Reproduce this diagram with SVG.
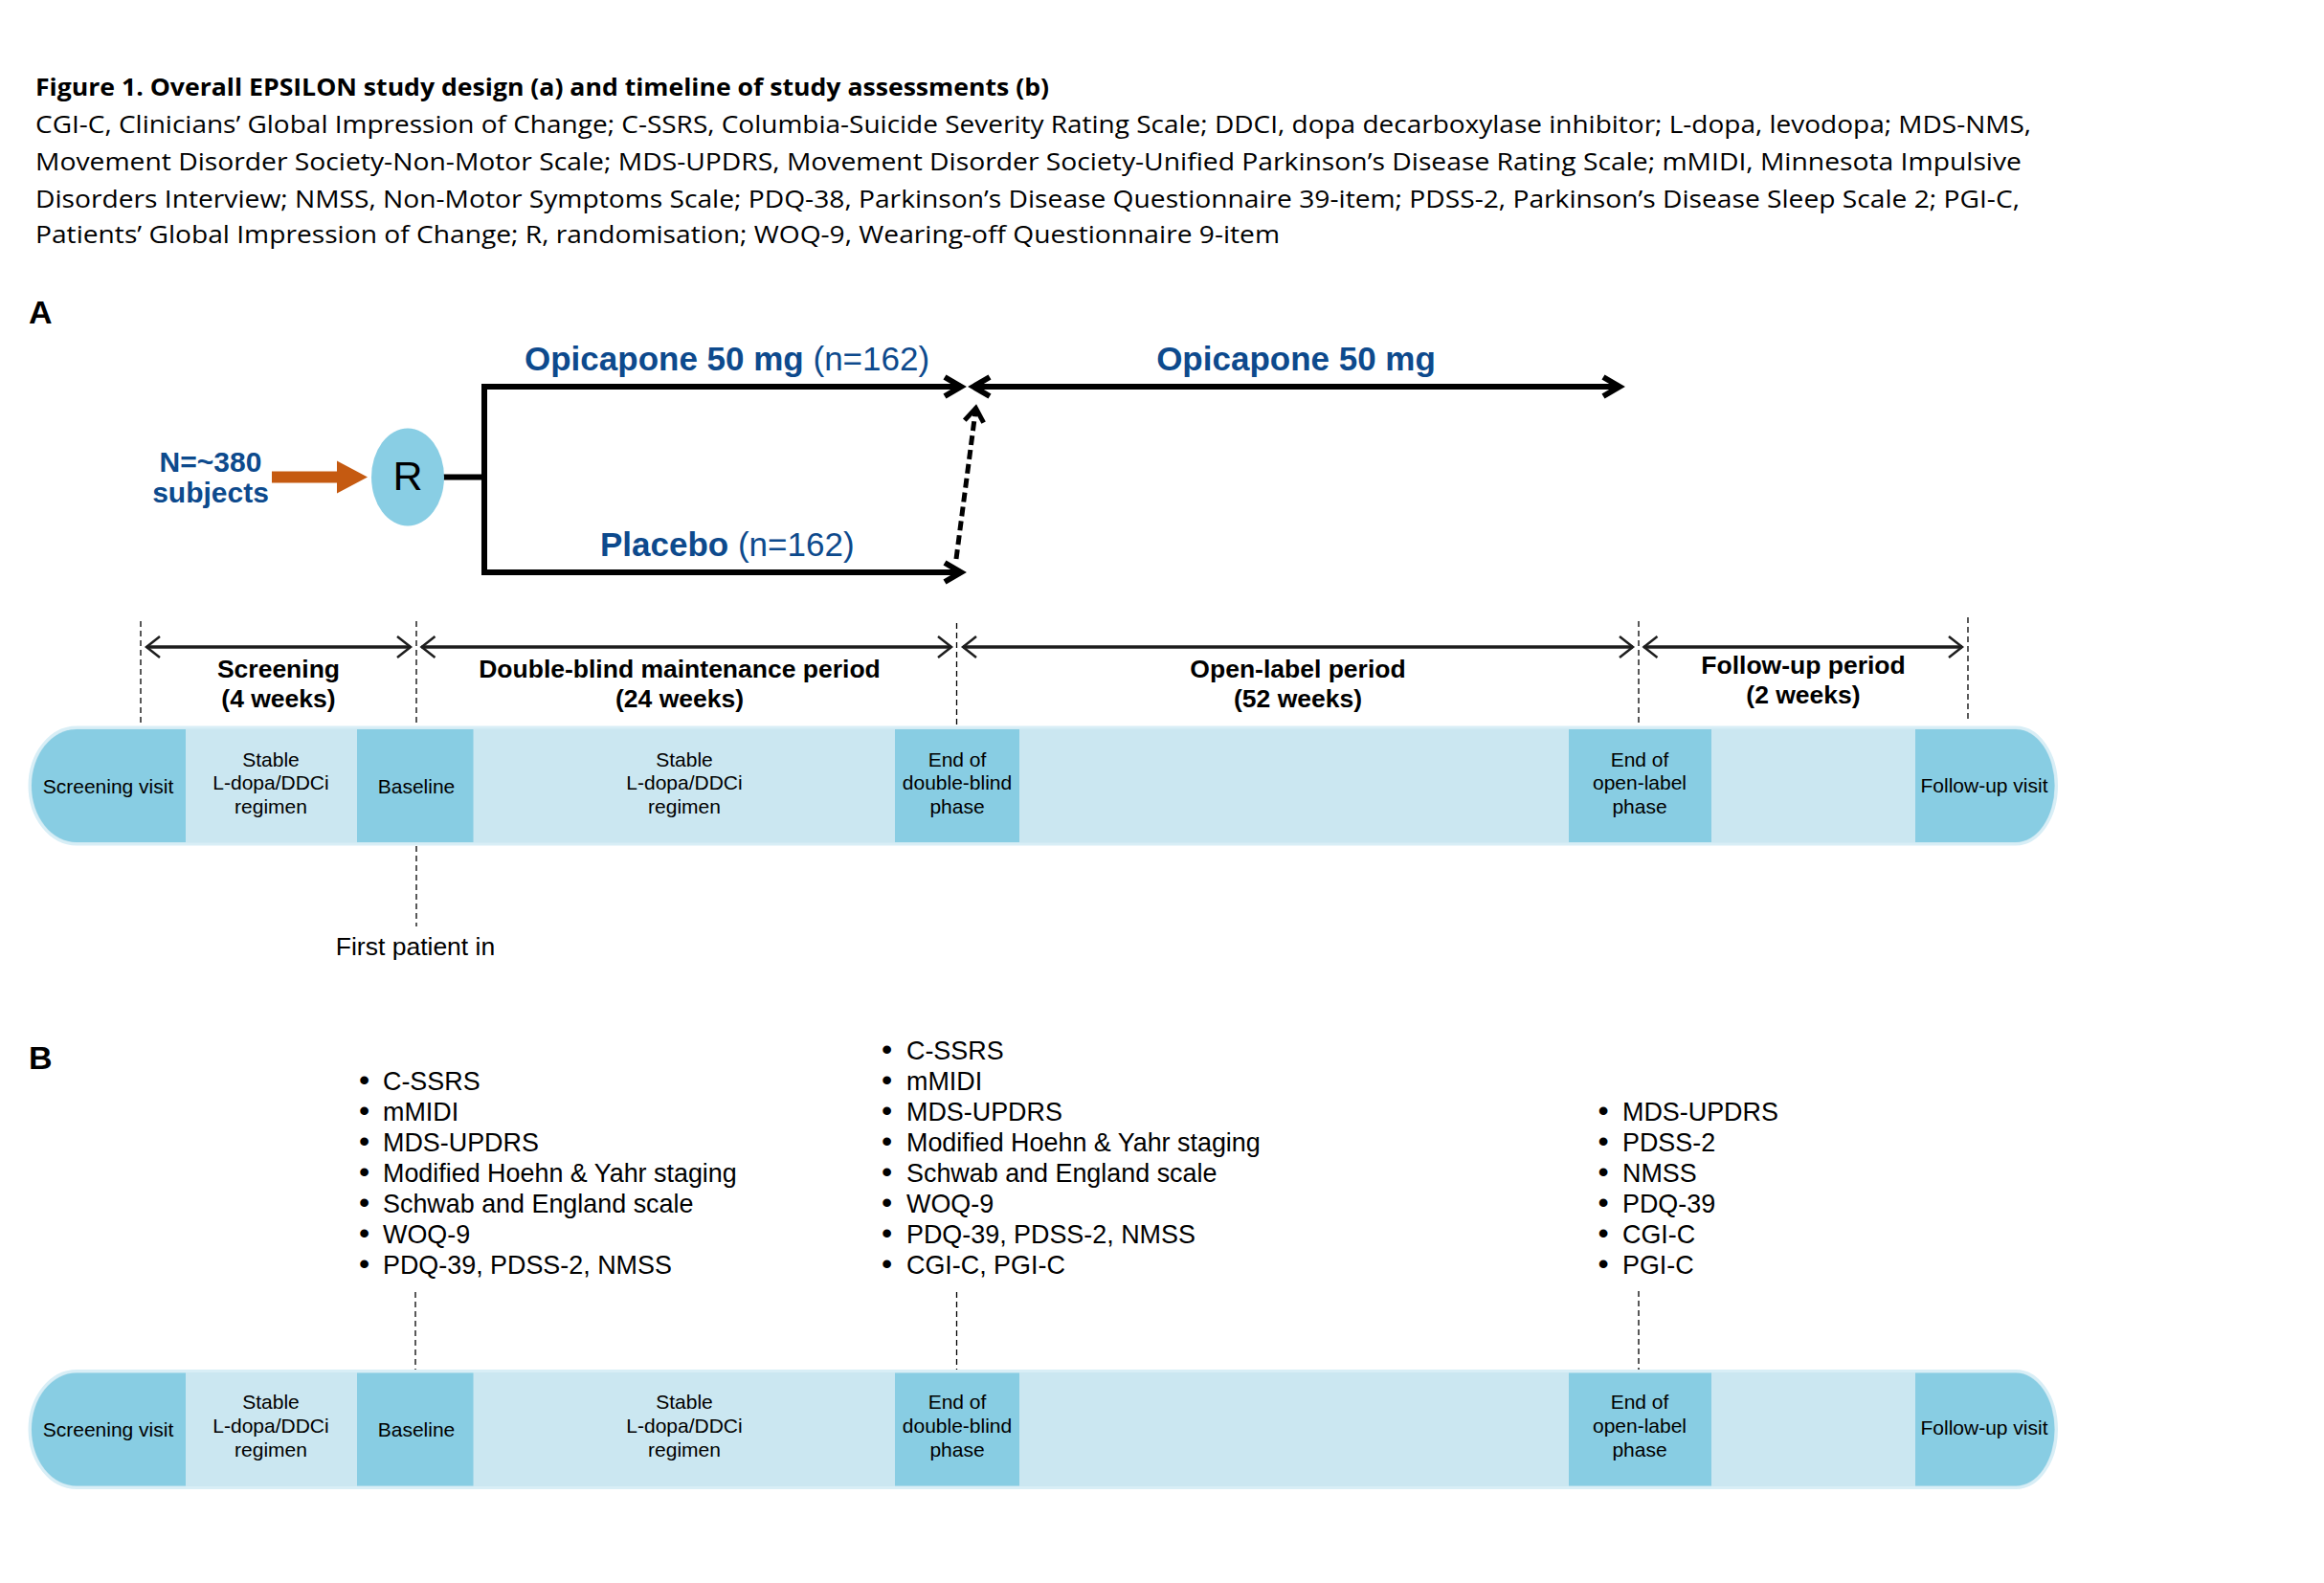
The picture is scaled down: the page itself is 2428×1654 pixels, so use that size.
<svg xmlns="http://www.w3.org/2000/svg" width="2428" height="1654" viewBox="0 0 2428 1654">
<style>
text{font-family:"Liberation Sans",Arial,sans-serif;fill:#000}
.cap{font-family:"Open Sans","Liberation Sans",sans-serif;font-size:25.5px}
.capb{font-weight:700}
.lab{font-size:34px;font-weight:700}
.blue{fill:#0d4a8d}
.armt{font-size:35px}
.b{font-weight:700}
.arm{stroke:#000;stroke-width:6;fill:none;stroke-linejoin:miter}
.per{stroke:#1e1e1e;stroke-width:3.5;fill:none}
.guide{stroke:#000;stroke-width:1.3;stroke-dasharray:6 4;fill:none}
.dash{stroke:#000;stroke-width:5;stroke-dasharray:10 5;fill:none}
.bar{fill:#cbe7f1;stroke:#d8eef6;stroke-width:3}
.dark{fill:#88cde3}
.bt{font-size:21px;text-anchor:middle}
.pl{font-size:26.5px;font-weight:700;text-anchor:middle}
.li{font-size:26.9px}
.bu{font-size:32px}
</style>
<defs>
<marker id="chev" markerUnits="userSpaceOnUse" markerWidth="40" markerHeight="40" viewBox="-30 -20 40 40" refX="0" refY="0" orient="auto-start-reverse" overflow="visible"><path d="M-17,-10 L0,0 L-17,10" fill="none" stroke="#000" stroke-width="6"/></marker>
<marker id="dchev" markerUnits="userSpaceOnUse" markerWidth="40" markerHeight="40" viewBox="-30 -20 40 40" refX="0" refY="0" orient="auto" overflow="visible"><path d="M-14,-10 L0,0 L-14,10" fill="none" stroke="#000" stroke-width="5" stroke-dasharray="none"/></marker>
<marker id="pchev" markerUnits="userSpaceOnUse" markerWidth="40" markerHeight="40" viewBox="-30 -20 40 40" refX="0" refY="0" orient="auto-start-reverse" overflow="visible"><path d="M-14,-11 L0,0 L-14,11" fill="none" stroke="#1e1e1e" stroke-width="2.5"/></marker>
</defs>

<g id="caption" class="cap">
<text class="cap capb" x="37" y="100" textLength="1059" lengthAdjust="spacingAndGlyphs">Figure 1. Overall EPSILON study design (a) and timeline of study assessments (b)</text>
<text class="cap" x="37" y="139" textLength="2085" lengthAdjust="spacingAndGlyphs">CGI-C, Clinicians’ Global Impression of Change; C-SSRS, Columbia-Suicide Severity Rating Scale; DDCI, dopa decarboxylase inhibitor; L-dopa, levodopa; MDS-NMS,</text>
<text class="cap" x="37" y="178" textLength="2075" lengthAdjust="spacingAndGlyphs">Movement Disorder Society-Non-Motor Scale; MDS-UPDRS, Movement Disorder Society-Unified Parkinson’s Disease Rating Scale; mMIDI, Minnesota Impulsive</text>
<text class="cap" x="37" y="216.5" textLength="2073" lengthAdjust="spacingAndGlyphs">Disorders Interview; NMSS, Non-Motor Symptoms Scale; PDQ-38, Parkinson’s Disease Questionnaire 39-item; PDSS-2, Parkinson’s Disease Sleep Scale 2; PGI-C,</text>
<text class="cap" x="37" y="254" textLength="1300" lengthAdjust="spacingAndGlyphs">Patients’ Global Impression of Change; R, randomisation; WOQ-9, Wearing-off Questionnaire 9-item</text>
</g>

<g id="label-A"><text class="lab" x="30" y="338">A</text></g>
<g id="label-B"><text class="lab" x="30" y="1117">B</text></g>

<g id="connectors">
<polygon id="entry-arrow" points="284,492.5 352,492.5 352,481.5 384,498.5 352,515.5 352,504.5 284,504.5" fill="#c55a11"/>
<line x1="463" y1="498.5" x2="506" y2="498.5" class="arm"/>
<path class="arm" d="M1004,404 H506 V598 H1004" marker-start="url(#chev)" marker-end="url(#chev)"/>
<path class="arm" d="M1017,404 H1692" marker-start="url(#chev)" marker-end="url(#chev)"/>
<path class="dash" d="M999,584 L1019.5,426.5" marker-end="url(#dchev)"/>
<path class="per" d="M153,676 H429" marker-start="url(#pchev)" marker-end="url(#pchev)"/>
<path class="per" d="M440.5,676 H994" marker-start="url(#pchev)" marker-end="url(#pchev)"/>
<path class="per" d="M1006,676 H1706" marker-start="url(#pchev)" marker-end="url(#pchev)"/>
<path class="per" d="M1717.5,676 H2050" marker-start="url(#pchev)" marker-end="url(#pchev)"/>
<path class="guide" d="M147,649 V758 M435,649 V758 M435,884 V968 M999.5,651 V758 M1712,649 V757 M2056,645 V753"/>
<path class="guide" d="M434,1350 V1432 M999.5,1350 V1432 M1712,1349 V1432"/>
</g>

<g id="node-N">
<text class="blue b" x="220" y="493" font-size="30" text-anchor="middle">N=~380</text>
<text class="blue b" x="220" y="525" font-size="30" text-anchor="middle">subjects</text>
</g>
<g id="node-R">
<ellipse cx="426" cy="498.5" rx="38" ry="51" fill="#89cee4"/>
<text x="426" y="511.5" font-size="43" text-anchor="middle">R</text>
</g>
<g id="label-opicapone">
<text class="blue armt" x="548" y="387"><tspan class="b">Opicapone 50 mg</tspan> (n=162)</text>
</g>
<g id="label-placebo">
<text class="blue armt" x="627" y="581"><tspan class="b">Placebo</tspan> (n=162)</text>
</g>
<g id="label-openlabel-arm">
<text class="blue armt b" x="1354" y="387" text-anchor="middle">Opicapone 50 mg</text>
</g>

<g id="period-labels">
<text class="pl" x="291" y="708">Screening</text>
<text class="pl" x="291" y="738.5">(4 weeks)</text>
<text class="pl" x="710" y="708">Double-blind maintenance period</text>
<text class="pl" x="710" y="738.5">(24 weeks)</text>
<text class="pl" x="1356" y="708">Open-label period</text>
<text class="pl" x="1356" y="738.5">(52 weeks)</text>
<text class="pl" x="1884" y="704">Follow-up period</text>
<text class="pl" x="1884" y="735">(2 weeks)</text>
</g>

<g id="timeline-A">
<path class="bar" d="M80,760 H2106 A42.5,61 0 0 1 2106,882 H80 A49,61 0 0 1 80,760 Z"/>
<g id="A-screening-visit"><path class="dark" d="M194,762 H80 A47,59 0 0 0 80,880 H194 Z"/><text class="bt" x="113" y="829">Screening visit</text></g>
<g id="A-stable-1"><text class="bt" x="283" y="800.5">Stable</text><text class="bt" x="283" y="825">L-dopa/DDCi</text><text class="bt" x="283" y="850">regimen</text></g>
<g id="A-baseline"><rect class="dark" x="373" y="762" width="121.5" height="118"/><text class="bt" x="435" y="829">Baseline</text></g>
<g id="A-stable-2"><text class="bt" x="715" y="800.5">Stable</text><text class="bt" x="715" y="825">L-dopa/DDCi</text><text class="bt" x="715" y="850">regimen</text></g>
<g id="A-end-db"><rect class="dark" x="935" y="762" width="130" height="118"/><text class="bt" x="1000" y="800.5">End of</text><text class="bt" x="1000" y="825">double-blind</text><text class="bt" x="1000" y="850">phase</text></g>
<g id="A-end-ol"><rect class="dark" x="1639" y="762" width="149" height="118"/><text class="bt" x="1713" y="800.5">End of</text><text class="bt" x="1713" y="825">open-label</text><text class="bt" x="1713" y="850">phase</text></g>
<g id="A-followup-visit"><path class="dark" d="M2001,762 H2106 A40.5,59 0 0 1 2106,880 H2001 Z"/><text class="bt" x="2073" y="828">Follow-up visit</text></g>
</g>

<g id="first-patient"><text x="434" y="998" font-size="26.5" text-anchor="middle">First patient in</text></g>

<g id="list-baseline" class="li">
<text class="li" y="1139"><tspan class="bu" x="375">•</tspan><tspan x="400">C-SSRS</tspan></text>
<text class="li" y="1171"><tspan class="bu" x="375">•</tspan><tspan x="400">mMIDI</tspan></text>
<text class="li" y="1203"><tspan class="bu" x="375">•</tspan><tspan x="400">MDS-UPDRS</tspan></text>
<text class="li" y="1235"><tspan class="bu" x="375">•</tspan><tspan x="400">Modified Hoehn &amp; Yahr staging</tspan></text>
<text class="li" y="1267"><tspan class="bu" x="375">•</tspan><tspan x="400">Schwab and England scale</tspan></text>
<text class="li" y="1299"><tspan class="bu" x="375">•</tspan><tspan x="400">WOQ-9</tspan></text>
<text class="li" y="1331"><tspan class="bu" x="375">•</tspan><tspan x="400">PDQ-39, PDSS-2, NMSS</tspan></text>
</g>
<g id="list-end-db" class="li">
<text class="li" y="1107"><tspan class="bu" x="921">•</tspan><tspan x="947">C-SSRS</tspan></text>
<text class="li" y="1139"><tspan class="bu" x="921">•</tspan><tspan x="947">mMIDI</tspan></text>
<text class="li" y="1171"><tspan class="bu" x="921">•</tspan><tspan x="947">MDS-UPDRS</tspan></text>
<text class="li" y="1203"><tspan class="bu" x="921">•</tspan><tspan x="947">Modified Hoehn &amp; Yahr staging</tspan></text>
<text class="li" y="1235"><tspan class="bu" x="921">•</tspan><tspan x="947">Schwab and England scale</tspan></text>
<text class="li" y="1267"><tspan class="bu" x="921">•</tspan><tspan x="947">WOQ-9</tspan></text>
<text class="li" y="1299"><tspan class="bu" x="921">•</tspan><tspan x="947">PDQ-39, PDSS-2, NMSS</tspan></text>
<text class="li" y="1331"><tspan class="bu" x="921">•</tspan><tspan x="947">CGI-C, PGI-C</tspan></text>
</g>
<g id="list-end-ol" class="li">
<text class="li" y="1171"><tspan class="bu" x="1669.5">•</tspan><tspan x="1695">MDS-UPDRS</tspan></text>
<text class="li" y="1203"><tspan class="bu" x="1669.5">•</tspan><tspan x="1695">PDSS-2</tspan></text>
<text class="li" y="1235"><tspan class="bu" x="1669.5">•</tspan><tspan x="1695">NMSS</tspan></text>
<text class="li" y="1267"><tspan class="bu" x="1669.5">•</tspan><tspan x="1695">PDQ-39</tspan></text>
<text class="li" y="1299"><tspan class="bu" x="1669.5">•</tspan><tspan x="1695">CGI-C</tspan></text>
<text class="li" y="1331"><tspan class="bu" x="1669.5">•</tspan><tspan x="1695">PGI-C</tspan></text>
</g>

<g id="timeline-B" transform="translate(0,672.5)">
<path class="bar" d="M80,760 H2106 A42.5,61 0 0 1 2106,882 H80 A49,61 0 0 1 80,760 Z"/>
<g id="B-screening-visit"><path class="dark" d="M194,762 H80 A47,59 0 0 0 80,880 H194 Z"/><text class="bt" x="113" y="828">Screening visit</text></g>
<g id="B-stable-1"><text class="bt" x="283" y="799.5">Stable</text><text class="bt" x="283" y="824">L-dopa/DDCi</text><text class="bt" x="283" y="849">regimen</text></g>
<g id="B-baseline"><rect class="dark" x="373" y="762" width="121.5" height="118"/><text class="bt" x="435" y="828">Baseline</text></g>
<g id="B-stable-2"><text class="bt" x="715" y="799.5">Stable</text><text class="bt" x="715" y="824">L-dopa/DDCi</text><text class="bt" x="715" y="849">regimen</text></g>
<g id="B-end-db"><rect class="dark" x="935" y="762" width="130" height="118"/><text class="bt" x="1000" y="799.5">End of</text><text class="bt" x="1000" y="824">double-blind</text><text class="bt" x="1000" y="849">phase</text></g>
<g id="B-end-ol"><rect class="dark" x="1639" y="762" width="149" height="118"/><text class="bt" x="1713" y="799.5">End of</text><text class="bt" x="1713" y="824">open-label</text><text class="bt" x="1713" y="849">phase</text></g>
<g id="B-followup-visit"><path class="dark" d="M2001,762 H2106 A40.5,59 0 0 1 2106,880 H2001 Z"/><text class="bt" x="2073" y="826">Follow-up visit</text></g>
</g>
</svg>
